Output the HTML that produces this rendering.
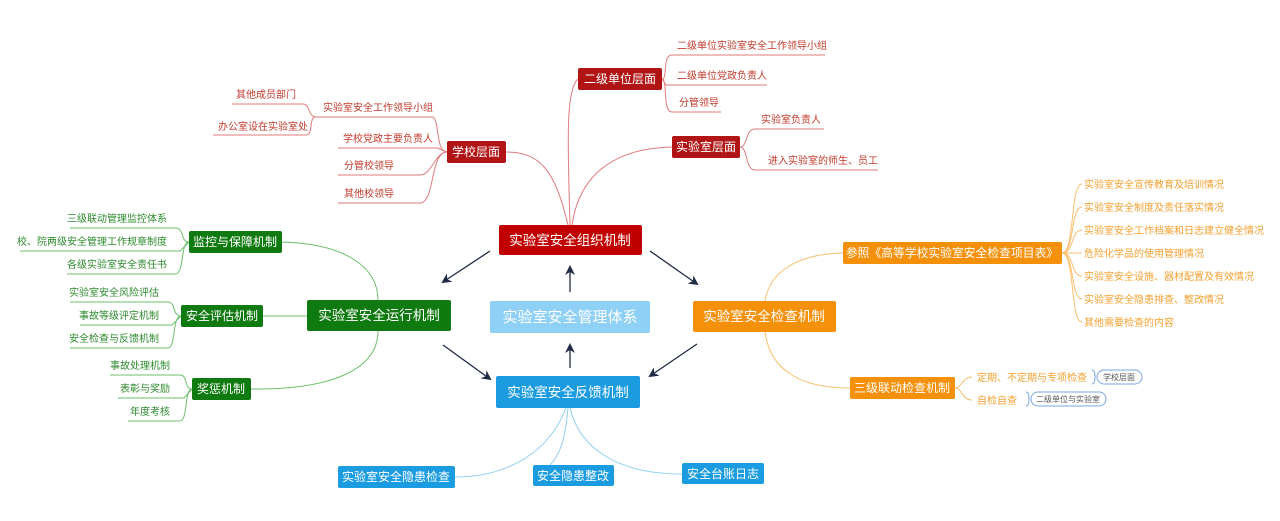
<!DOCTYPE html>
<html><head><meta charset="utf-8"><style>
html,body{margin:0;padding:0;background:#fff;}
svg{display:block;font-family:"Liberation Sans","Noto Sans CJK SC",sans-serif;}
</style></head><body>
<svg width="1280" height="521" viewBox="0 0 1280 521" xmlns="http://www.w3.org/2000/svg">
<defs><marker id="ar" markerWidth="10" markerHeight="10" refX="8" refY="5" orient="auto" markerUnits="userSpaceOnUse"><path d="M0,0 L10,5 L0,10 L3,5 z" fill="#1f2a44"/></marker></defs>
<rect width="1280" height="521" fill="#fff"/>

<!-- RED -->
<g fill="none" stroke="#e07b7b" stroke-width="1">
<path d="M570,225 C568,150 565,90 578,79"/>
<path d="M572,225 C580,170 620,148 672,147"/>
<path d="M568,225 C555,170 540,152 506,152"/>
<path d="M662,79 C668,79 662,55 672,55 L825,55"/>
<path d="M662,79 L666,85 L767,85"/>
<path d="M662,79 C668,79 662,112 672,112 L721,112"/>
<path d="M740,147 C748,147 745,129 755,129 L824,129"/>
<path d="M740,147 C748,147 745,170 755,170 L878,170"/>
<path d="M447,152 C435,152 440,117 432,117 L316,117 C308,117 310,104 303,104 L232,104"/>
<path d="M316,117 C308,117 314,135 306,135 L213,135"/>
<path d="M447,152 L437,148 L338,148"/>
<path d="M447,152 C435,152 432,175 420,175 L338,175"/>
<path d="M447,152 C430,152 435,203 420,203 L338,203"/>
</g>
<g fill="#c0392b" font-size="10">
<text x="677" y="49">二级单位实验室安全工作领导小组</text>
<text x="677" y="79">二级单位党政负责人</text>
<text x="679" y="106">分管领导</text>
<text x="761" y="123">实验室负责人</text>
<text x="768" y="164">进入实验室的师生、员工</text>
<text x="323" y="111">实验室安全工作领导小组</text>
<text x="236" y="98">其他成员部门</text>
<text x="218" y="130">办公室设在实验室处</text>
<text x="343" y="142">学校党政主要负责人</text>
<text x="344" y="169">分管校领导</text>
<text x="344" y="197">其他校领导</text>
</g>
<rect x="578" y="68" width="84" height="22" rx="2" fill="#b01414"/>
<text x="620" y="83" fill="#fff" font-size="12" text-anchor="middle">二级单位层面</text>
<rect x="672" y="136" width="68" height="22" rx="2" fill="#b01414"/>
<text x="706" y="151" fill="#fff" font-size="12" text-anchor="middle">实验室层面</text>
<rect x="447" y="141" width="59" height="22" rx="2" fill="#b01414"/>
<text x="476" y="156" fill="#fff" font-size="12" text-anchor="middle">学校层面</text>

<!-- GREEN -->
<g fill="none" stroke="#6cbf6c" stroke-width="1">
<path d="M282,242 C350,244 378,270 378,300"/>
<path d="M378,331 C378,370 330,390 251,389"/>
<path d="M263,316 L307,316"/>
<path d="M189,242 C180,242 185,228 175,228 L70,228"/>
<path d="M189,242 L180,251 L20,251"/>
<path d="M189,242 C180,242 185,274 175,274 L67,274"/>
<path d="M181,316 C172,316 176,302 168,302 L70,302"/>
<path d="M181,316 L172,325 L80,325"/>
<path d="M181,316 C172,316 176,348 168,348 L70,348"/>
<path d="M192,389 C184,389 188,375 180,375 L110,375"/>
<path d="M192,389 L184,398 L118,398"/>
<path d="M192,389 C184,389 188,421 180,421 L128,421"/>
</g>
<g fill="#2e8b2e" font-size="10" text-anchor="end">
<text x="167" y="222">三级联动管理监控体系</text>
<text x="167" y="245">校、院两级安全管理工作规章制度</text>
<text x="167" y="268">各级实验室安全责任书</text>
<text x="159" y="296">实验室安全风险评估</text>
<text x="159" y="319">事故等级评定机制</text>
<text x="159" y="342">安全检查与反馈机制</text>
<text x="170" y="369">事故处理机制</text>
<text x="170" y="392">表彰与奖励</text>
<text x="170" y="415">年度考核</text>
</g>
<rect x="189" y="231" width="93" height="22" rx="2" fill="#0f7a0f"/>
<text x="235" y="246" fill="#fff" font-size="12" text-anchor="middle">监控与保障机制</text>
<rect x="181" y="305" width="82" height="22" rx="2" fill="#0f7a0f"/>
<text x="222" y="320" fill="#fff" font-size="12" text-anchor="middle">安全评估机制</text>
<rect x="192" y="378" width="59" height="22" rx="2" fill="#0f7a0f"/>
<text x="221" y="393" fill="#fff" font-size="12" text-anchor="middle">奖惩机制</text>

<!-- ORANGE -->
<g fill="none" stroke="#fbbf6e" stroke-width="1">
<path d="M765,301 C770,270 800,254 843,253"/>
<path d="M765,332 C770,370 800,388 850,388"/>
<path d="M1062,253 C1075,253 1070,184 1082,184"/>
<path d="M1062,253 C1075,253 1070,207 1082,207"/>
<path d="M1062,253 C1075,253 1070,230 1082,230"/>
<path d="M1062,253 L1082,253"/>
<path d="M1062,253 C1075,253 1070,276 1082,276"/>
<path d="M1062,253 C1075,253 1070,299 1082,299"/>
<path d="M1062,253 C1075,253 1070,322 1082,322"/>
<path d="M955,388 C962,388 962,377 972,377"/>
<path d="M955,388 C962,388 962,400 972,400"/>
</g>
<g fill="#f5a030" font-size="10">
<text x="1084" y="188">实验室安全宣传教育及培训情况</text>
<text x="1084" y="211">实验室安全制度及责任落实情况</text>
<text x="1084" y="234">实验室安全工作档案和日志建立健全情况</text>
<text x="1084" y="257">危险化学品的使用管理情况</text>
<text x="1084" y="280">实验室安全设施、器材配置及有效情况</text>
<text x="1084" y="303">实验室安全隐患排查、整改情况</text>
<text x="1084" y="326">其他需要检查的内容</text>
<text x="977" y="381">定期、不定期与专项检查</text>
<text x="977" y="404">自检自查</text>
</g>
<rect x="843" y="242" width="219" height="22" rx="2" fill="#f5900a"/>
<text x="952" y="257" fill="#fff" font-size="11.8" text-anchor="middle">参照《高等学校实验室安全检查项目表》</text>
<rect x="850" y="377" width="105" height="22" rx="2" fill="#f5900a"/>
<text x="902" y="392" fill="#fff" font-size="12" text-anchor="middle">三级联动检查机制</text>
<path d="M1092,370 q3,0 3,7 q0,7 -3,7" fill="none" stroke="#7aa6e0"/>
<rect x="1097" y="370" width="45" height="14" rx="7" fill="#fff" stroke="#7aa6e0"/>
<text x="1119" y="380" fill="#555" font-size="8" text-anchor="middle">学校层面</text>
<path d="M1026,392 q3,0 3,7 q0,7 -3,7" fill="none" stroke="#7aa6e0"/>
<rect x="1031" y="392" width="75" height="14" rx="7" fill="#fff" stroke="#7aa6e0"/>
<text x="1068" y="402" fill="#555" font-size="8" text-anchor="middle">二级单位与实验室</text>

<!-- BLUE -->
<g fill="none" stroke="#8fd0f0" stroke-width="1">
<path d="M566,408 C550,450 510,477 455,477"/>
<path d="M568,408 C565,440 560,455 550,465"/>
<path d="M570,408 C580,450 620,474 682,474"/>
</g>
<rect x="338" y="466" width="117" height="22" rx="2" fill="#1b9be0"/>
<text x="396" y="481" fill="#fff" font-size="12" text-anchor="middle">实验室安全隐患检查</text>
<rect x="533" y="465" width="81" height="21" rx="2" fill="#1b9be0"/>
<text x="573" y="480" fill="#fff" font-size="12" text-anchor="middle">安全隐患整改</text>
<rect x="682" y="463" width="82" height="21" rx="2" fill="#1b9be0"/>
<text x="723" y="478" fill="#fff" font-size="12" text-anchor="middle">安全台账日志</text>

<!-- CENTER -->
<rect x="499" y="225" width="143" height="30" rx="2" fill="#c00000"/>
<text x="570" y="245" fill="#fff" font-size="13.5" text-anchor="middle">实验室安全组织机制</text>
<rect x="490" y="301" width="160" height="32" rx="2" fill="#8fd0f7"/>
<text x="570" y="322" fill="#fff" font-size="15" text-anchor="middle">实验室安全管理体系</text>
<rect x="307" y="300" width="144" height="31" rx="2" fill="#0f7a0f"/>
<text x="379" y="320" fill="#fff" font-size="13.5" text-anchor="middle">实验室安全运行机制</text>
<rect x="693" y="301" width="143" height="31" rx="2" fill="#f5900a"/>
<text x="764" y="321" fill="#fff" font-size="13.5" text-anchor="middle">实验室安全检查机制</text>
<rect x="496" y="376" width="144" height="32" rx="2" fill="#1b9be0"/>
<text x="568" y="397" fill="#fff" font-size="13.5" text-anchor="middle">实验室安全反馈机制</text>

<!-- ARROWS -->
<g stroke="#1f2a44" stroke-width="1.3" marker-end="url(#ar)">
<line x1="490" y1="251" x2="443" y2="282"/>
<line x1="650" y1="251" x2="697" y2="284"/>
<line x1="570" y1="292" x2="570" y2="267"/>
<line x1="570" y1="368" x2="570" y2="345"/>
<line x1="443" y1="345" x2="490" y2="379"/>
<line x1="697" y1="344" x2="650" y2="376"/>
</g>
</svg>
</body></html>
